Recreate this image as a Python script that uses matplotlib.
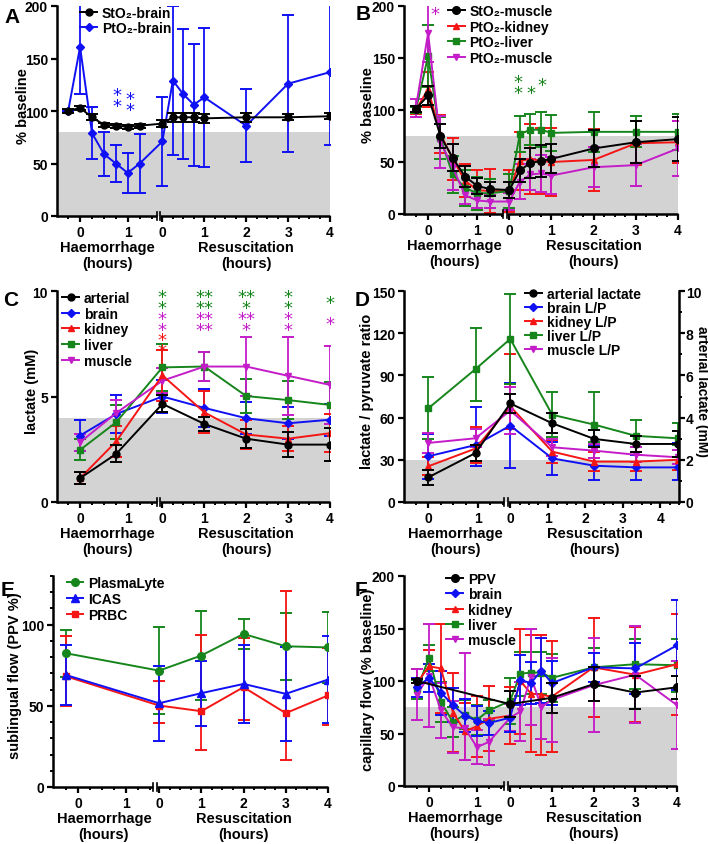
import numpy as np
import matplotlib
matplotlib.use("Agg")
import matplotlib.pyplot as plt
from matplotlib.lines import Line2D
from matplotlib.ticker import MultipleLocator, FixedLocator

plt.rcParams['font.family'] = ['Liberation Sans', 'DejaVu Sans']
plt.rcParams['font.weight'] = 'bold'
plt.rcParams['axes.labelweight'] = 'bold'

BLACK = '#000000'
BLUE = '#1010f5'
RED = '#f51515'
GREEN = '#16861c'
MAGENTA = '#c41cc8'
GREY = '#d3d3d3'
nan = np.nan

# ---- panel A: brain oxygenation (% baseline)
a_h = [-0.25, 0, 0.25, 0.5, 0.75, 1.0, 1.25]
a_r = [0, 0.25, 0.5, 0.75, 1, 2, 3, 4]
a_sto2_brain = [100, 103, 94, 87, 86, 85, 86, 88, 94, 94, 94, 93, 94, 94, 95]
a_sto2_brain_sd = [2, 2, 3, 2, 2, 2, 2, 3, 4, 4, 4, 4, 4, 3, 3]
a_pto2_brain = [100, 161, 79, 59, 50, 41, 50, 71, 129, 116, 106, 113, 86, 126, 137]
a_pto2_brain_sd = [0, 45, 25, 21, 18, 19, 28, 42, 71, 62, 58, 66, 35, 65, 69]

# ---- panel B: muscle / kidney / liver oxygenation
b_h = [-0.25, 0, 0.25, 0.5, 0.75, 1.0, 1.25]
b_r = [0, 0.25, 0.5, 0.75, 1, 2, 3, 4]
b_sto2_muscle = [101, 114, 75, 54, 36, 27, 24, 23, 42, 49, 51, 53, 63, 69, 72]
b_sto2_muscle_sd = [3, 9, 12, 13, 10, 8, 7, 8, 11, 14, 15, 14, 18, 20, 21]
b_pto2_kidney = [100, 120, 77, 53, 32, 23, 22, 22, 51, 53, 51, 50, 52, 68, 69]
b_pto2_kidney_sd = [4, 17, 18, 20, 16, 19, 21, 20, 28, 34, 32, 33, 30, 21, 20]
b_pto2_liver = [100, 152, 73, 38, 25, 20, 20, 22, 77, 81, 81, 78, 79, 79, 79]
b_pto2_liver_sd = [3, 30, 20, 18, 17, 16, 14, 16, 17, 15, 17, 17, 19, 15, 17]
b_pto2_muscle = [102, 174, 69, 45, 18, 13, 12, 12, 31, 38, 39, 37, 45, 47, 63]
b_pto2_muscle_sd = [9, 28, 25, 22, 8, 7, 6, 8, 17, 15, 18, 18, 19, 20, 26]

# ---- panel C: lactate (mM)
c_h = [0, 0.75]
c_r = [0, 1, 2, 3, 4]
c_arterial = [1.13, 2.28, 4.65, 3.7, 3.0, 2.72, 2.72]
c_arterial_sd = [0.3, 0.4, 0.4, 0.35, 0.45, 0.6, 0.8]
c_brain = [3.15, 4.17, 5.0, 4.46, 3.97, 3.73, 3.9]
c_brain_sd = [0.75, 0.9, 0.8, 0.9, 0.75, 0.75, 0.75]
c_kidney = [1.13, 2.87, 6.0, 4.25, 3.2, 3.0, 3.26]
c_kidney_sd = [0.3, 0.75, 1.2, 1.0, 0.7, 0.6, 0.9]
c_liver = [2.47, 3.78, 6.38, 6.42, 5.02, 4.83, 4.6]
c_liver_sd = [0.5, 0.8, 1.1, 0.7, 0.8, 0.9, 1.1]
c_muscle = [2.83, 4.22, 5.75, 6.42, 6.42, 5.98, 5.55]
c_muscle_sd = [0.4, 0.6, 0.6, 0.7, 1.4, 1.85, 1.85]
c_star_r = [0, 1, 2, 3, 4]
c_star_green = [2, 4, 3, 2, 1]
c_star_magenta = [2, 4, 3, 2, 1]
c_star_red = [2, 0, 0, 0, 0]

# ---- panel D: lactate / pyruvate ratio, arterial lactate on right axis
d_h = [0, 0.95]
d_r = [0, 1.12, 2.24, 3.35, 4.46]
d_arterial = [1.17, 2.32, 4.67, 3.73, 2.99, 2.75, 2.75]
d_arterial_sd = [0.35, 0.4, 0.43, 0.47, 0.4, 0.4, 0.6]
d_brain = [32.5, 40.5, 54.3, 31, 25.8, 24.6, 24.6]
d_brain_sd = [16, (15, 27), 30, 12, (10, 15), 9, (9, 17)]
d_kidney = [25.4, 38, 68, 35.8, 28.7, 28.7, 30]
d_kidney_sd = [6.5, (10, 15), (16, 37), 8, 7, 7, 7]
d_liver = [66.6, 94.5, 115.9, 62, 55, 47, 45.3]
d_liver_sd = [22, (23, 29), 32, 16, (12, 23), (6, 11), (5, 11)]
d_muscle = [42, 45.3, 65, 38.9, 36.5, 33.6, 31.8]
d_muscle_sd = [7, 6.5, 17, 6, 5, 5.5, 5]

# ---- panel E: sublingual flow
e_h = [-0.25]
e_r = [0, 1, 2, 3, 4]
e_plasmalyte = [82.4, 71.7, 81, 94.3, 86.7, 86]
e_plasmalyte_sd = [14.5, 27, 27.6, 9.2, 20.8, 21.7]
e_icas = [69, 51.6, 57.8, 63.5, 57.4, 66.2]
e_icas_sd = [18.5, 23, 20, 24, 29, 26.6]
e_prbc = [68.2, 50.2, 46.7, 61.5, 45.5, 56.4]
e_prbc_sd = [(18, 25), (11, 15), (24, 47), (20, 30), (29, 75), (18, 29)]

# ---- panel F: capillary flow (% baseline)
f_h = [-0.25, 0, 0.25, 0.5, 0.75, 1.0, 1.25]
f_r = [0, 0.25, 0.5, 0.75, 1, 2, 3, 4]
f_ppv = [100, nan, nan, nan, nan, nan, nan, 78, nan, nan, nan, 84, 97, 89, 94]
f_ppv_sd = [2, 0, 0, 0, 0, 0, 0, 12.5, 0, 0, 0, 14, 16, 16, 11]
f_brain = [94, 103, 89, 77, 67, 62, 60, 65, 101, 98, 110, 98, 113, 112, 134]
f_brain_sd = [9, 13, 21, 16.5, 16, 14.5, 11, 14, 24, 20, 31, 21, 14, 24, 43]
f_kidney = [98, 114, 112, 70, 52, 57, 64, 67, 100, 88, 87, 85, 113, 106, 116]
f_kidney_sd = [13, 16, 42, 38, 27, 29, 31, 27, 50, 56, 57, 53, 47, 45, 48]
f_liver = [92, 122, 80, 61, 68, 63, 72, 81, 107, 108, 108, 103, 113, 116, 115]
f_liver_sd = [9, 12, 19, 14, 14, 14, 10, 22, 21, 20, 20, 23, 18, 24, 25]
f_muscle = [87, 105, 72, 56, 55, 37, 42, 65, 71, 104, 75, 82, 96, 106, 77]
f_muscle_sd = [24, 49, 26, 25, (30, 72), 16, 22, 13, 28, 46, 30, 40, 45, 46, 42]

# panel geometry in pixels (left, right, top, bottom), x mapping and y-label spot
FIG_W, FIG_H = 708, 845
LAYOUT = {
    'A': dict(box=(57, 330, 7, 217), r0=1.726, s=0.879, rend=4, xmin=-0.484, ylab=-0.125),
    'B': dict(box=(404, 678, 7, 215), r0=1.65, s=0.857, rend=4, xmin=-0.49, ylab=-0.132),
    'C': dict(box=(57, 330, 292, 503), r0=1.71, s=0.87, rend=4, xmin=-0.48, ylab=-0.09),
    'D': dict(box=(404, 679, 292, 503), r0=1.65, s=0.755, rend=4.5, xmin=-0.49, ylab=-0.135),
    'E': dict(box=(53, 328, 577, 788), r0=1.69, s=0.88, rend=4, xmin=-0.52, ylab=-0.138),
    'F': dict(box=(404, 677, 577, 787), r0=1.69, s=0.87, rend=4, xmin=-0.52, ylab=-0.132),
}
LETTERS = {'A': (4, 8), 'B': (356, 5), 'C': (3, 291), 'D': (355, 291), 'E': (1, 581), 'F': (355, 581)}


def make_ax(fig, key):
    l, r, t, b = LAYOUT[key]['box']
    return fig.add_axes([l / FIG_W, 1 - b / FIG_H, (r - l) / FIG_W, (b - t) / FIG_H])


def xmap(key, th, tr):
    L = LAYOUT[key]
    return np.concatenate([np.asarray(th, float), L['r0'] + L['s'] * np.asarray(tr, float)])


def rpos(key, t):
    L = LAYOUT[key]
    return L['r0'] + L['s'] * t


def split_err(err):
    lo, hi = [], []
    for e in err:
        if isinstance(e, tuple):
            lo.append(e[0]); hi.append(e[1])
        else:
            lo.append(e); hi.append(e)
    return np.array([lo, hi], float)


def series(ax, x, y, err, color, marker, ms=5, z=3):
    y = np.asarray(y, float)
    e = split_err(err)
    m = ~np.isnan(y)
    ax.errorbar(x[m], y[m], yerr=e[:, m], color=color, marker=marker, ms=ms,
                lw=1.4, elinewidth=1.3, capsize=4, capthick=1.4, zorder=z)
    return Line2D([], [], color=color, marker=marker, ms=ms, lw=1.4)


def setup(ax, key, ylim, yticks, shade=None, yminor=None):
    L = LAYOUT[key]
    xmax = rpos(key, L['rend'])
    ax.set_xlim(L['xmin'], xmax)
    ax.set_ylim(*ylim)
    ax.set_yticks(yticks)
    if yminor:
        ax.yaxis.set_minor_locator(MultipleLocator(yminor))
    for sp in ['top', 'right', 'bottom']:
        ax.spines[sp].set_visible(False)
    ax.spines['left'].set_linewidth(1.8)
    if shade is not None:
        ax.axhspan(ylim[0], shade, color=GREY, zorder=0, lw=0)

    majors = [0, 1] + [rpos(key, t) for t in range(5)]
    ax.set_xticks(majors)
    ax.set_xticklabels(['0', '1', '0', '1', '2', '3', '4'])
    brk = L['r0'] - 0.085
    hmin = np.arange(-0.25, 1.51, 0.25)
    rmin = np.arange(0.25, L['rend'] + 0.01, 0.25)
    minors = [t for t in hmin if t not in (0, 1) and t > L['xmin']]
    minors += [rpos(key, t) for t in rmin if abs(t - round(t)) > 1e-6 or t > 4]
    ax.xaxis.set_minor_locator(FixedLocator(minors))
    ax.tick_params(axis='both', which='major', labelsize=10, width=1.6, length=4.5, pad=2)
    ax.tick_params(axis='both', which='minor', width=1.4, length=2.5)

    # broken x axis
    tr = ax.get_xaxis_transform()
    g = 0.035
    ax.plot([L['xmin'], brk - g], [0, 0], color='k', lw=1.8, transform=tr, clip_on=False, zorder=5,
            solid_capstyle='butt')
    ax.plot([brk + g, xmax], [0, 0], color='k', lw=1.8, transform=tr, clip_on=False, zorder=5,
            solid_capstyle='butt')
    for xb in (brk - g, brk + g):
        ax.plot([xb, xb], [-0.018, 0.018], color='k', lw=1.2, transform=tr, clip_on=False, zorder=5)

    ax.annotate('Haemorrhage\n(hours)', xy=((L['xmin'] + brk) / 2, 0), xycoords=tr,
                xytext=(0, -17), textcoords='offset points', ha='center', va='top',
                fontsize=10.5, fontweight='bold', linespacing=1.2)
    ax.annotate('Resuscitation\n(hours)', xy=((L['r0'] + xmax) / 2, 0), xycoords=tr,
                xytext=(0, -17), textcoords='offset points', ha='center', va='top',
                fontsize=10.5, fontweight='bold', linespacing=1.2)


def ylabel(ax, key, text, right=None, rot=90, size=10.5, yc=0.53):
    ax.set_ylabel(text, fontsize=size, rotation=rot, va='center')
    ax.yaxis.set_label_coords(LAYOUT[key]['ylab'] if right is None else right, yc)


def legend(ax, handles, labels, anchor, spacing=0.05):
    ax.legend(handles, labels, loc='upper left', bbox_to_anchor=anchor, frameon=False,
              fontsize=10, handlelength=1.2, handletextpad=0.35, labelspacing=spacing,
              borderpad=0, borderaxespad=0)


STARS = {1: '*', 2: '*\n*', 3: '**\n*', 4: '**\n**'}


def stars(ax, x, y, n, color):
    if n:
        ax.text(x, y, STARS[n], color=color, ha='center', va='center', fontsize=13,
                linespacing=0.5, fontweight='normal', family='DejaVu Sans', zorder=6)


fig = plt.figure(figsize=(FIG_W / 100, FIG_H / 100), dpi=100)

# ---------------- A
ax = make_ax(fig, 'A')
setup(ax, 'A', (0, 200), [0, 50, 100, 150, 200], shade=80)
x = xmap('A', a_h, a_r)
h1 = series(ax, x, a_sto2_brain, a_sto2_brain_sd, BLACK, 'o', z=4)
h2 = series(ax, x, a_pto2_brain, a_pto2_brain_sd, BLUE, 'D', ms=4)
legend(ax, [h1, h2], ['StO₂-brain', 'PtO₂-brain'], (0.085, 1.0))
ylabel(ax, 'A', '% baseline')
stars(ax, 0.78, 110, 2, BLUE)
stars(ax, 1.05, 106, 2, BLUE)

# ---------------- B
ax = make_ax(fig, 'B')
setup(ax, 'B', (0, 200), [0, 50, 100, 150, 200], shade=75)
x = xmap('B', b_h, b_r)
h3 = series(ax, x, b_pto2_kidney, b_pto2_kidney_sd, RED, '^')
h4 = series(ax, x, b_pto2_liver, b_pto2_liver_sd, GREEN, 's', ms=4.5)
h5 = series(ax, x, b_pto2_muscle, b_pto2_muscle_sd, MAGENTA, 'v')
h1 = series(ax, x, b_sto2_muscle, b_sto2_muscle_sd, BLACK, 'o', ms=5.5, z=4)
legend(ax, [h1, h3, h4, h5], ['StO₂-muscle', 'PtO₂-kidney', 'PtO₂-liver', 'PtO₂-muscle'],
       (0.16, 1.01), spacing=0.12)
ylabel(ax, 'B', '% baseline')
stars(ax, 0.13, 192, 1, MAGENTA)
stars(ax, rpos('B', 0.2), 122, 2, GREEN)
stars(ax, rpos('B', 0.52), 116, 1, GREEN)
stars(ax, rpos('B', 0.78), 124, 1, GREEN)

# ---------------- C
ax = make_ax(fig, 'C')
setup(ax, 'C', (0, 10), [0, 5, 10], shade=4)
x = xmap('C', c_h, c_r)
hb = series(ax, x, c_brain, c_brain_sd, BLUE, 'D', ms=4)
hl = series(ax, x, c_liver, c_liver_sd, GREEN, 's', ms=4.5)
hm = series(ax, x, c_muscle, c_muscle_sd, MAGENTA, 'v')
hk = series(ax, x, c_kidney, c_kidney_sd, RED, '^')
ha = series(ax, x, c_arterial, c_arterial_sd, BLACK, 'o', z=4)
legend(ax, [ha, hb, hk, hl, hm], ['arterial', 'brain', 'kidney', 'liver', 'muscle'],
       (0.02, 1.0), spacing=0.12)
ylabel(ax, 'C', 'lactate (mM)')
for t, ng, nm, nr in zip(c_star_r, c_star_green, c_star_magenta, c_star_red):
    stars(ax, rpos('C', t), 9.45, ng, GREEN)
    stars(ax, rpos('C', t), 8.42, nm, MAGENTA)
    stars(ax, rpos('C', t), 7.4, nr, RED)

# ---------------- D
ax = make_ax(fig, 'D')
setup(ax, 'D', (0, 150), [0, 30, 60, 90, 120, 150], shade=30)
ax2 = ax.twinx()
ax2.set_xlim(ax.get_xlim())
ax2.set_ylim(0, 10)
ax2.set_yticks([0, 2, 4, 6, 8, 10])
ax2.yaxis.set_minor_locator(MultipleLocator(1))
for sp in ['top', 'left', 'bottom']:
    ax2.spines[sp].set_visible(False)
ax2.spines['right'].set_linewidth(1.8)
ax2.tick_params(axis='y', which='major', labelsize=10, width=1.6, length=4, pad=1)
ax2.tick_params(axis='y', which='minor', width=1.4, length=2.5)
x = xmap('D', d_h, d_r)
hb = series(ax, x, d_brain, d_brain_sd, BLUE, 'D', ms=4)
hk = series(ax, x, d_kidney, d_kidney_sd, RED, '^')
hl = series(ax, x, d_liver, d_liver_sd, GREEN, 's', ms=4.5)
hm = series(ax, x, d_muscle, d_muscle_sd, MAGENTA, 'v')
ha = series(ax2, x, d_arterial, d_arterial_sd, BLACK, 'o', z=4)
legend(ax2, [ha, hb, hk, hl, hm],
       ['arterial lactate', 'brain L/P', 'kidney L/P', 'liver L/P', 'muscle L/P'],
       (0.44, 1.02), spacing=0.0)
ylabel(ax, 'D', 'lactate / pyruvate ratio')
ylabel(ax2, 'D', 'arterial lactate (mM)', right=1.082, rot=-90, size=10)

# ---------------- E
ax = make_ax(fig, 'E')
setup(ax, 'E', (0, 130), [0, 50, 100], yminor=10)
x = xmap('E', e_h, e_r)
hg = series(ax, x, e_plasmalyte, e_plasmalyte_sd, GREEN, 'o', ms=5.5)
hr = series(ax, x, e_prbc, e_prbc_sd, RED, 's', ms=4.5)
hi = series(ax, x, e_icas, e_icas_sd, BLUE, '^', ms=5.5)
legend(ax, [hg, hi, hr], ['PlasmaLyte', 'ICAS', 'PRBC'], (0.05, 1.0), spacing=0.15)
ylabel(ax, 'E', 'sublingual flow (PPV %)')

# ---------------- F
ax = make_ax(fig, 'F')
setup(ax, 'F', (0, 200), [0, 50, 100, 150, 200], shade=75)
x = xmap('F', f_h, f_r)
hl = series(ax, x, f_liver, f_liver_sd, GREEN, 's', ms=4.5)
hk = series(ax, x, f_kidney, f_kidney_sd, RED, '^')
hm = series(ax, x, f_muscle, f_muscle_sd, MAGENTA, 'v')
hb = series(ax, x, f_brain, f_brain_sd, BLUE, 'D', ms=4)
hp = series(ax, x, f_ppv, f_ppv_sd, BLACK, 'o', ms=5.5, z=4)
legend(ax, [hp, hb, hk, hl, hm], ['PPV', 'brain', 'kidney', 'liver', 'muscle'],
       (0.155, 1.02), spacing=0.1)
ylabel(ax, 'F', 'capillary flow (% baseline)', yc=0.51)

# panel letters
for key, (px, py) in LETTERS.items():
    fig.text(px / FIG_W, 1 - py / FIG_H, key, fontsize=15, fontweight='bold', ha='left', va='top')

fig.savefig('out.png', dpi=100)
